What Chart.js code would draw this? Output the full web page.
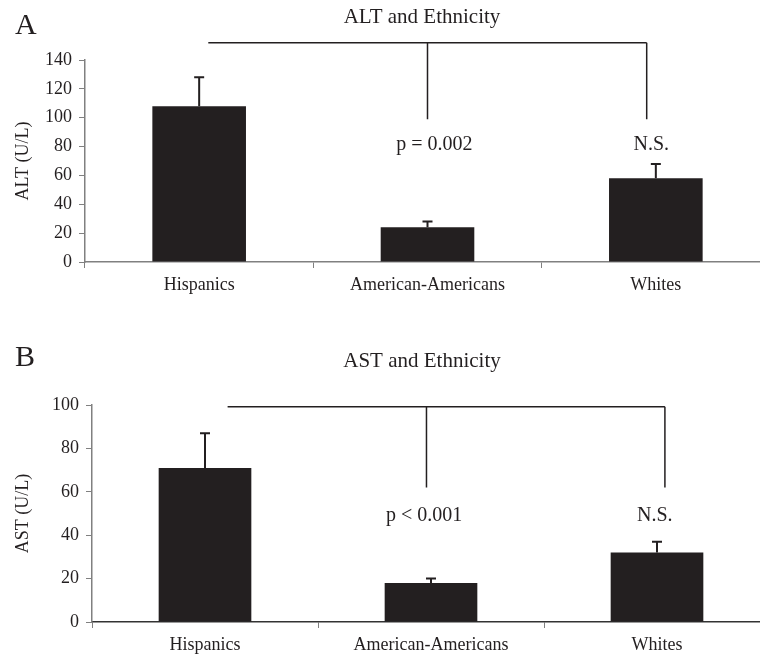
<!DOCTYPE html>
<html>
<head>
<meta charset="utf-8">
<script src="https://cdn.jsdelivr.net/npm/chart.js@4.4.1/dist/chart.umd.min.js"></script>
<style>
  html, body { margin: 0; padding: 0; background: #fff; overflow: hidden; }
  #wrap { position: relative; width: 760px; height: 657px; overflow: hidden; background: #fff; }
  canvas { position: absolute; left: 0; }
</style>
</head>
<body>
<div id="wrap">
  <canvas id="chart-a" width="770" height="300" style="top:0"></canvas>
  <canvas id="chart-b" width="770" height="337" style="top:320px"></canvas>
</div>
<script>
const categories = ['Hispanics', 'American-Americans', 'Whites'];

// panel A: ALT
const altMeans = [108, 24, 58];
const altErrors = [20, 4, 10];
const altMax = 140;
const altBracketX = [0.04, 1, 1.96];   // left end, middle drop, right drop (category units)
const altBracketY = [152, 99];         // horizontal line, bottom of drops
const altLabels = ['p = 0.002', 'N.S.'];
const altLabelX = [1.03, 1.98];
const altLabelY = 81;

// panel B: AST
const astMeans = [71, 18, 32];
const astErrors = [16, 2, 5];
const astMax = 100;
const astBracketX = [0.1, 0.98, 2.035];
const astBracketY = [99.2, 62];
const astLabels = ['p < 0.001', 'N.S.'];
const astLabelX = [0.97, 1.99];
const astLabelY = 49;

const tickStep = 20;
const ink = '#231f20';
const serif = '"Liberation Serif", "Times New Roman", serif';

const annotate = {
  id: 'annotate',
  afterDatasetsDraw(chart, args, opts) {
    const ctx = chart.ctx;
    const x = chart.scales.x;
    const y = chart.scales.y;
    const meta = chart.getDatasetMeta(0);

    ctx.save();
    ctx.strokeStyle = ink;
    ctx.fillStyle = ink;

    // error bars (upper only)
    ctx.lineWidth = 2;
    meta.data.forEach((bar, i) => {
      const top = y.getPixelForValue(opts.means[i]);
      const cap = y.getPixelForValue(opts.means[i] + opts.errors[i]);
      ctx.beginPath();
      ctx.moveTo(bar.x, top);
      ctx.lineTo(bar.x, cap);
      ctx.moveTo(bar.x - 5, cap);
      ctx.lineTo(bar.x + 5, cap);
      ctx.stroke();
    });

    // comparison bracket
    const [bl, bm, br] = opts.bracketX.map(v => x.getPixelForValue(v));
    const [bTop, bBot] = opts.bracketY.map(v => y.getPixelForValue(v));
    ctx.lineWidth = 1.5;
    ctx.beginPath();
    ctx.moveTo(bl, bTop);
    ctx.lineTo(br, bTop);
    ctx.moveTo(bm, bTop);
    ctx.lineTo(bm, bBot);
    ctx.moveTo(br, bTop);
    ctx.lineTo(br, bBot);
    ctx.stroke();

    ctx.font = '20px ' + serif;
    ctx.textAlign = 'center';
    ctx.textBaseline = 'middle';
    opts.labels.forEach((txt, i) => {
      ctx.fillText(txt, x.getPixelForValue(opts.labelX[i]), y.getPixelForValue(opts.labelY));
    });

    // title and panel letter
    ctx.font = '21px ' + serif;
    ctx.fillText(opts.title, opts.titlePos[0], opts.titlePos[1]);
    ctx.font = '30px ' + serif;
    ctx.textAlign = 'left';
    ctx.textBaseline = 'alphabetic';
    ctx.fillText(opts.letter, opts.letterPos[0], opts.letterPos[1]);
    ctx.restore();
  }
};

function makeChart(id, cfg) {
  return new Chart(document.getElementById(id), {
    type: 'bar',
    data: {
      labels: categories,
      datasets: [{
        data: cfg.means,
        backgroundColor: ink,
        borderWidth: 0,
        barPercentage: 0.41,
        categoryPercentage: 1
      }]
    },
    options: {
      responsive: false,
      animation: false,
      layout: { padding: { top: cfg.top, left: 0, right: 0, bottom: 0 } },
      plugins: {
        legend: { display: false },
        tooltip: { enabled: false },
        annotate: cfg
      },
      scales: {
        x: {
          grid: { drawOnChartArea: false, drawTicks: true, tickLength: 6, color: '#808080', offset: true },
          border: { color: cfg.xAxisColor, width: 1.5 },
          ticks: { font: { family: serif, size: 18 }, color: ink, padding: 6, maxRotation: 0 },
          afterFit: s => { s.height = cfg.xHeight; }
        },
        y: {
          min: 0,
          max: cfg.max,
          ticks: { stepSize: tickStep, font: { family: serif, size: 18 }, color: ink, padding: 7 },
          grid: { drawOnChartArea: false, drawTicks: true, tickLength: 6, color: '#808080' },
          border: { color: '#808080', width: 1.5 },
          title: {
            display: true,
            text: cfg.yTitle,
            font: { family: serif, size: 18 },
            color: ink,
            padding: { top: 12, bottom: 0 }
          },
          afterFit: s => { s.width = cfg.yWidth; }
        }
      }
    },
    plugins: [annotate]
  });
}

makeChart('chart-a', {
  means: altMeans, errors: altErrors, max: altMax,
  bracketX: altBracketX, bracketY: altBracketY,
  labels: altLabels, labelX: altLabelX, labelY: altLabelY,
  title: 'ALT and Ethnicity', titlePos: [422, 17],
  letter: 'A', letterPos: [15, 34],
  yTitle: 'ALT (U/L)',
  top: 60, yWidth: 85, xHeight: 38, xAxisColor: '#808080'
});

makeChart('chart-b', {
  means: astMeans, errors: astErrors, max: astMax,
  bracketX: astBracketX, bracketY: astBracketY,
  labels: astLabels, labelX: astLabelX, labelY: astLabelY,
  title: 'AST and Ethnicity', titlePos: [422, 41],
  letter: 'B', letterPos: [15, 46],
  yTitle: 'AST (U/L)',
  top: 85, yWidth: 92, xHeight: 35, xAxisColor: '#333333'
});
</script>
</body>
</html>
